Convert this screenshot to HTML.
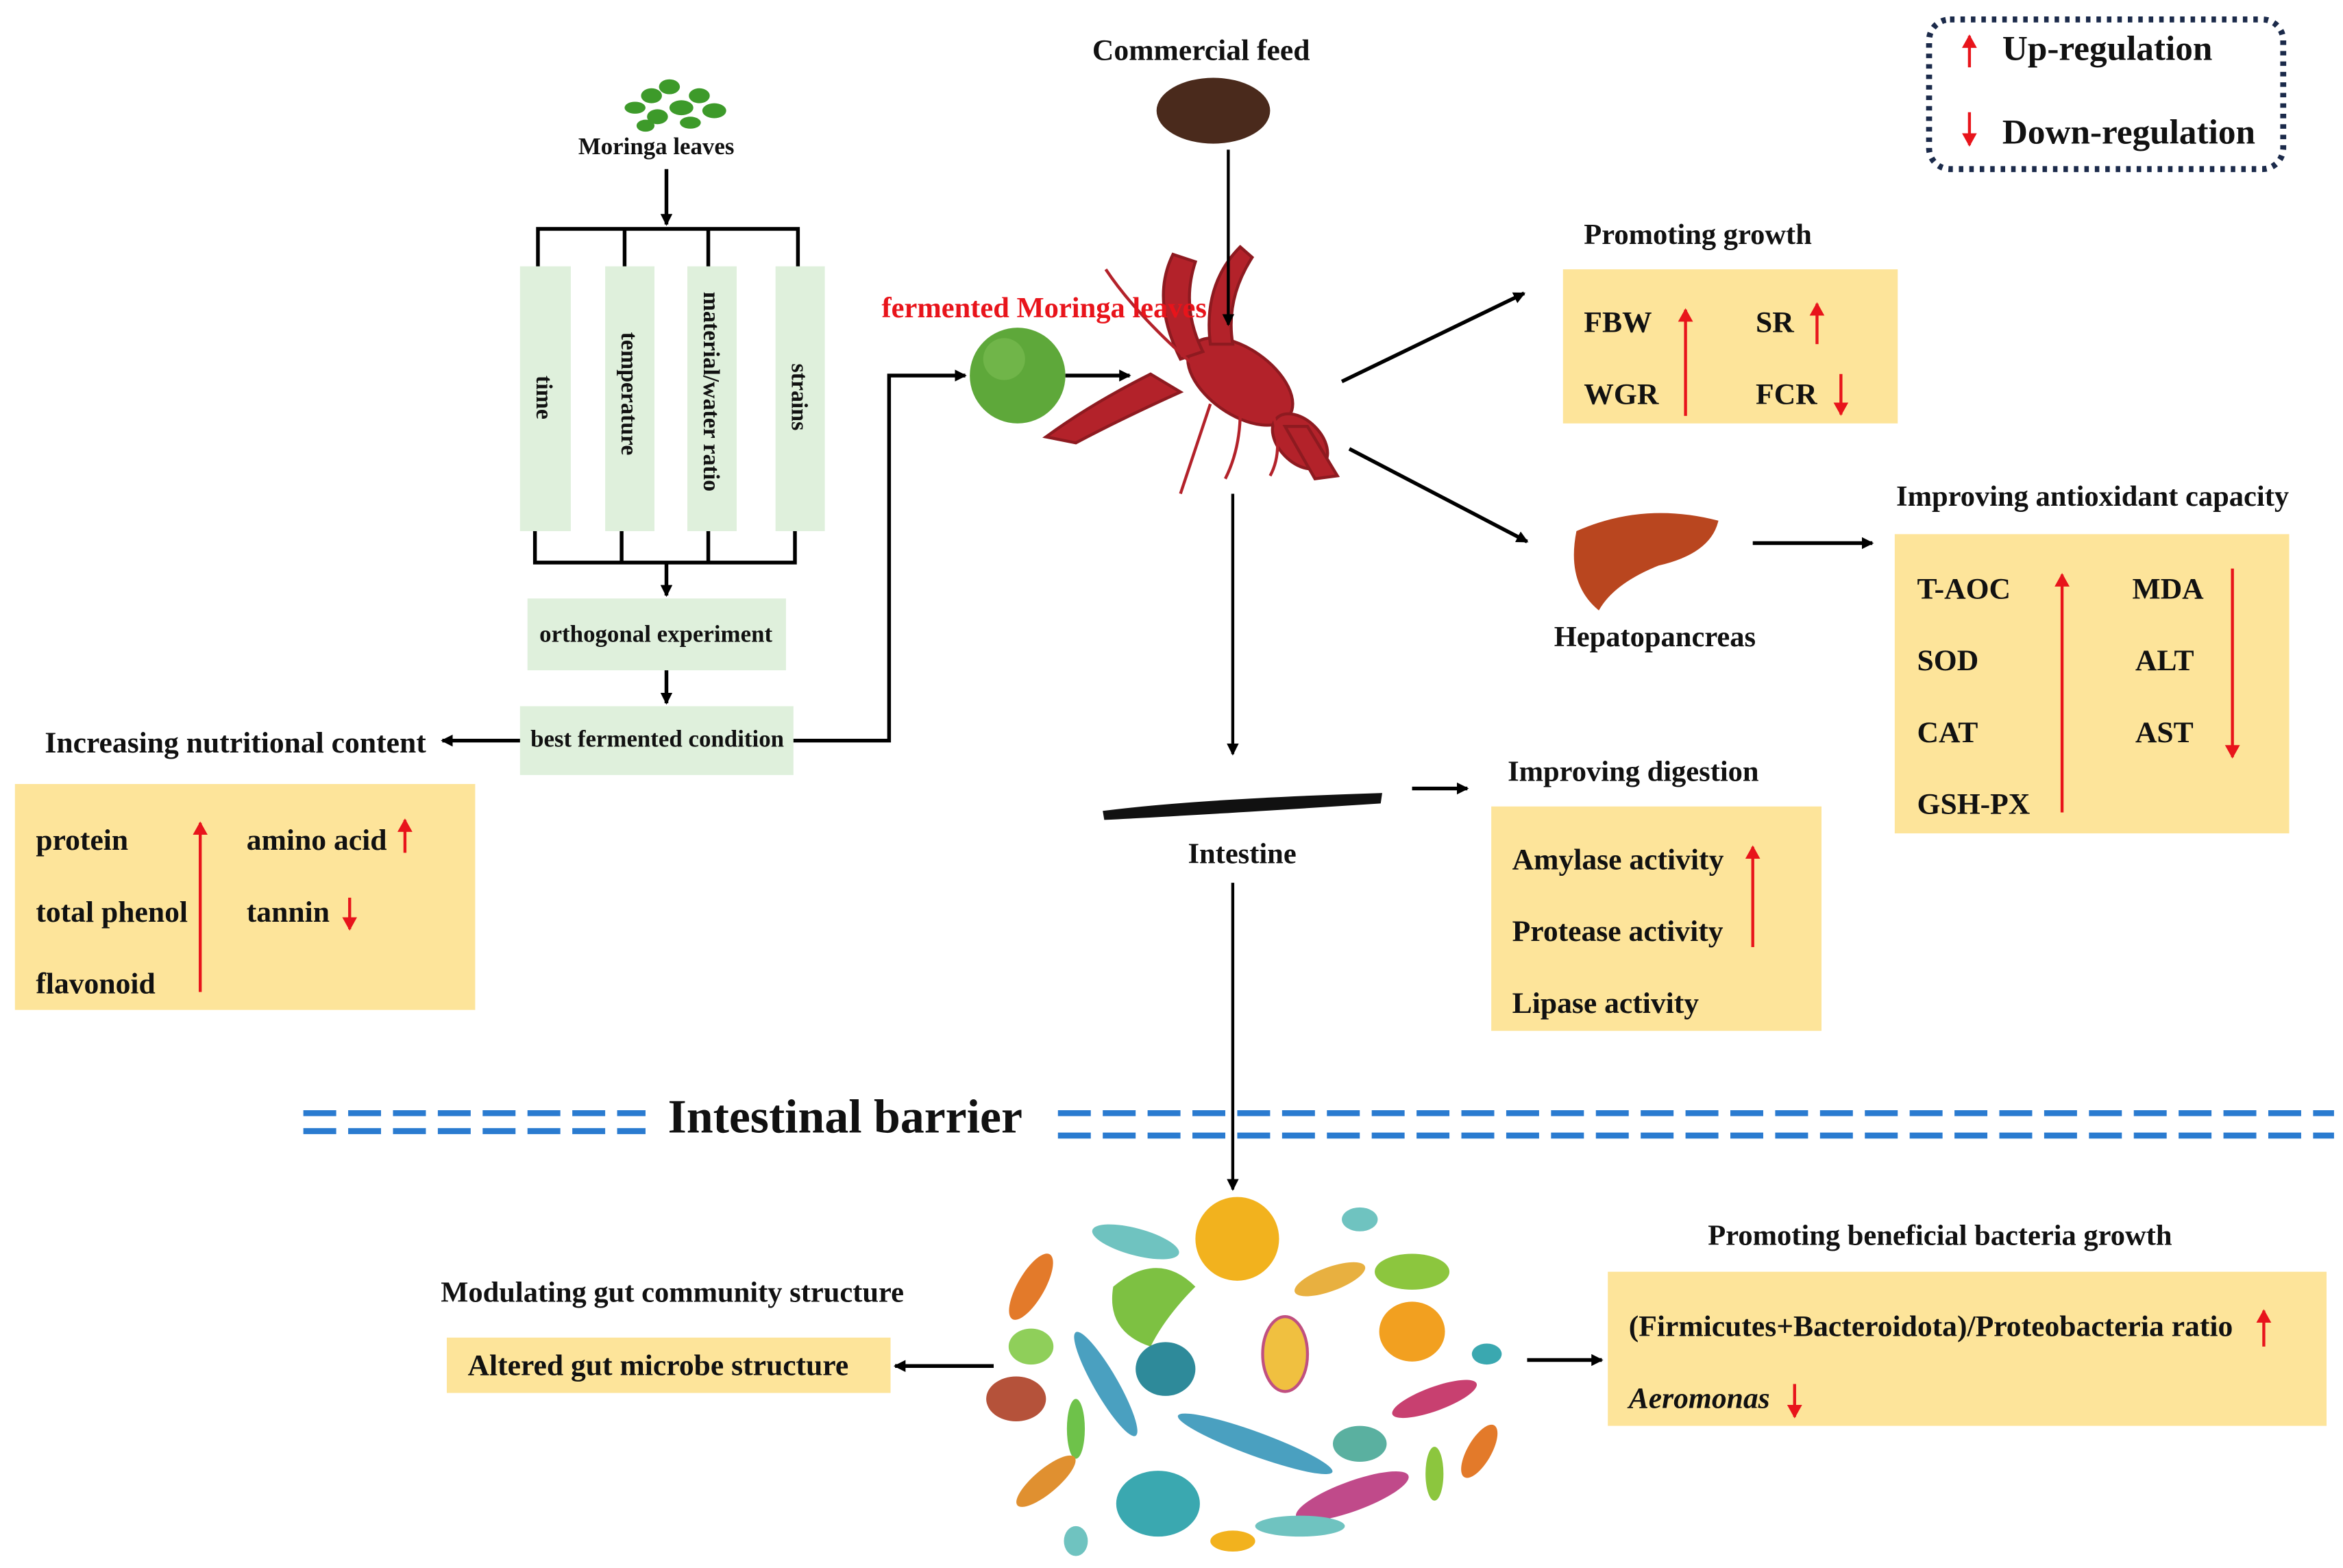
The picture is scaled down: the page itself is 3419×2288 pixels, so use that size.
<!DOCTYPE html>
<html><head><meta charset="utf-8"><style>
html,body{margin:0;padding:0;background:#fff;}
svg{display:block;}
text{font-family:"Liberation Serif",serif;font-weight:bold;fill:#111;}
</style></head><body>
<svg width="3419" height="2288" viewBox="0 0 1568 1048" preserveAspectRatio="none" xmlns="http://www.w3.org/2000/svg">
<defs>
<marker id="a" markerWidth="8" markerHeight="8" refX="7" refY="4" orient="auto" markerUnits="userSpaceOnUse"><path d="M0,0 L8,4 L0,8 z" fill="#000"/></marker>
<marker id="r" markerWidth="9" markerHeight="10" refX="8" refY="5" orient="auto" markerUnits="userSpaceOnUse"><path d="M0,0 L9,5 L0,10 z" fill="#e8141b"/></marker>
</defs>
<rect width="1568" height="1048" fill="#fff"/>

<!-- legend -->
<rect x="1291" y="13" width="237" height="100" rx="14" fill="none" stroke="#1b2a4a" stroke-width="4" stroke-dasharray="3,4"/>
<line x1="1318" y1="45" x2="1318" y2="24" stroke="#e8141b" stroke-width="2" marker-end="url(#r)"/>
<text x="1340" y="40" font-size="23.5">Up-regulation</text>
<line x1="1318" y1="75" x2="1318" y2="97" stroke="#e8141b" stroke-width="2" marker-end="url(#r)"/>
<text x="1340" y="96" font-size="23.5">Down-regulation</text>

<!-- moringa -->
<g fill="#3d9a2a">
<ellipse cx="425" cy="72" rx="7" ry="4"/><ellipse cx="436" cy="64" rx="7" ry="5"/><ellipse cx="448" cy="58" rx="7" ry="5"/>
<ellipse cx="440" cy="78" rx="7" ry="5"/><ellipse cx="456" cy="72" rx="8" ry="5"/><ellipse cx="468" cy="64" rx="7" ry="5"/>
<ellipse cx="478" cy="74" rx="8" ry="5"/><ellipse cx="462" cy="82" rx="7" ry="4"/><ellipse cx="432" cy="84" rx="6" ry="4"/>
</g>
<text x="387" y="103" font-size="16">Moringa leaves</text>
<line x1="446" y1="113" x2="446" y2="150" stroke="#000" stroke-width="2.5" marker-end="url(#a)"/>
<g stroke="#000" stroke-width="2.5" fill="none">
<path d="M360,180 V153 H534 V180 M418,153 V180 M474,153 V180"/>
<path d="M358,355 V376 H532 V355 M416,355 V376 M474,355 V376"/>
</g>
<g fill="#dff0dc">
<rect x="348" y="178" width="34" height="177"/><rect x="405" y="178" width="33" height="177"/>
<rect x="460" y="178" width="33" height="177"/><rect x="519" y="178" width="33" height="177"/>
</g>
<g font-size="15.5">
<text transform="translate(359,251) rotate(90)">time</text>
<text transform="translate(416,222) rotate(90)">temperature</text>
<text transform="translate(471,195) rotate(90)">material/water ratio</text>
<text transform="translate(530,243) rotate(90)">strains</text>
</g>
<line x1="446" y1="376" x2="446" y2="398" stroke="#000" stroke-width="2.5" marker-end="url(#a)"/>
<rect x="353" y="400" width="173" height="48" fill="#dff0dc"/>
<text x="361" y="429" font-size="16">orthogonal experiment</text>
<line x1="446" y1="448" x2="446" y2="470" stroke="#000" stroke-width="2.5" marker-end="url(#a)"/>
<rect x="348" y="472" width="183" height="46" fill="#dff0dc"/>
<text x="355" y="499" font-size="16">best fermented condition</text>
<line x1="348" y1="495" x2="296" y2="495" stroke="#000" stroke-width="2.5" marker-end="url(#a)"/>
<text x="30" y="503" font-size="20">Increasing nutritional content</text>
<rect x="10" y="524" width="308" height="151" fill="#fde49a"/>
<g font-size="20">
<text x="24" y="568">protein</text><text x="24" y="616">total phenol</text><text x="24" y="664">flavonoid</text>
<text x="165" y="568">amino acid</text><text x="165" y="616">tannin</text>
</g>
<line x1="134" y1="663" x2="134" y2="550" stroke="#e8141b" stroke-width="2" marker-end="url(#r)"/>
<line x1="271" y1="570" x2="271" y2="548" stroke="#e8141b" stroke-width="2" marker-end="url(#r)"/>
<line x1="234" y1="600" x2="234" y2="621" stroke="#e8141b" stroke-width="2" marker-end="url(#r)"/>
<path d="M531,495 H595 V251 H646" stroke="#000" stroke-width="2.5" fill="none" marker-end="url(#a)"/>

<!-- fermented -->
<circle cx="681" cy="251" r="32" fill="#5ea83a"/>
<circle cx="672" cy="240" r="14" fill="#78bb50" opacity=".7"/>
<line x1="713" y1="251" x2="756" y2="251" stroke="#000" stroke-width="2.5" marker-end="url(#a)"/>

<!-- crayfish -->
<g fill="#b3222a" stroke="#8e1a20" stroke-width="2">
<ellipse cx="830" cy="255" rx="40" ry="22" transform="rotate(35 830 255)"/>
<ellipse cx="870" cy="295" rx="22" ry="14" transform="rotate(45 870 295)"/>
<path d="M770,250 Q730,270 700,292 L720,296 Q750,280 790,262 Z"/>
<path d="M790,240 Q770,200 785,170 L800,175 Q790,205 805,235 Z"/>
<path d="M810,230 Q805,190 830,165 L838,172 Q820,200 825,230 Z"/>
<path d="M860,285 L880,320 L895,318 L875,285 Z"/>
</g>
<g stroke="#b3222a" stroke-width="2" fill="none">
<path d="M800,245 Q760,210 740,180"/><path d="M810,270 Q800,300 790,330"/><path d="M830,275 Q830,300 820,320"/><path d="M850,270 Q860,300 850,318"/>
</g>
<text x="590" y="212" font-size="19.5" style="fill:#e8141b">fermented Moringa leaves</text>
<text x="731" y="40" font-size="20">Commercial feed</text>
<ellipse cx="812" cy="74" rx="38" ry="22" fill="#4a2a1c"/>
<line x1="822" y1="100" x2="822" y2="217" stroke="#000" stroke-width="2" marker-end="url(#a)"/>
<line x1="898" y1="255" x2="1020" y2="196" stroke="#000" stroke-width="2.5" marker-end="url(#a)"/>
<line x1="903" y1="300" x2="1022" y2="362" stroke="#000" stroke-width="2.5" marker-end="url(#a)"/>

<!-- growth -->
<text x="1060" y="163" font-size="19.5">Promoting growth</text>
<rect x="1046" y="180" width="224" height="103" fill="#fde49a"/>
<g font-size="20"><text x="1060" y="222">FBW</text><text x="1060" y="270">WGR</text><text x="1175" y="222">SR</text><text x="1175" y="270">FCR</text></g>
<line x1="1128" y1="278" x2="1128" y2="207" stroke="#e8141b" stroke-width="2" marker-end="url(#r)"/>
<line x1="1216" y1="230" x2="1216" y2="203" stroke="#e8141b" stroke-width="2" marker-end="url(#r)"/>
<line x1="1232" y1="250" x2="1232" y2="277" stroke="#e8141b" stroke-width="2" marker-end="url(#r)"/>

<!-- liver -->
<path d="M1055,355 Q1100,335 1150,348 Q1145,370 1110,378 Q1080,390 1070,408 Q1048,390 1055,355 Z" fill="#b9461f"/>
<text x="1040" y="432" font-size="19.5">Hepatopancreas</text>
<line x1="1173" y1="363" x2="1253" y2="363" stroke="#000" stroke-width="2.5" marker-end="url(#a)"/>
<text x="1269" y="338" font-size="19.5">Improving antioxidant capacity</text>
<rect x="1268" y="357" width="264" height="200" fill="#fde49a"/>
<g font-size="20"><text x="1283" y="400">T-AOC</text><text x="1283" y="448">SOD</text><text x="1283" y="496">CAT</text><text x="1283" y="544">GSH-PX</text>
<text x="1427" y="400">MDA</text><text x="1429" y="448">ALT</text><text x="1429" y="496">AST</text></g>
<line x1="1380" y1="543" x2="1380" y2="384" stroke="#e8141b" stroke-width="2" marker-end="url(#r)"/>
<line x1="1494" y1="380" x2="1494" y2="506" stroke="#e8141b" stroke-width="2" marker-end="url(#r)"/>

<!-- intestine -->
<line x1="825" y1="330" x2="825" y2="504" stroke="#000" stroke-width="2" marker-end="url(#a)"/>
<path d="M738,542 Q800,534 925,530 L924,537 Q800,545 739,548 Z" fill="#111"/>
<text x="795" y="577" font-size="19.5">Intestine</text>
<line x1="945" y1="527" x2="982" y2="527" stroke="#000" stroke-width="2.5" marker-end="url(#a)"/>
<text x="1009" y="522" font-size="19.5">Improving digestion</text>
<rect x="998" y="539" width="221" height="150" fill="#fde49a"/>
<g font-size="20"><text x="1012" y="581">Amylase activity</text><text x="1012" y="629">Protease activity</text><text x="1012" y="677">Lipase activity</text></g>
<line x1="1173" y1="633" x2="1173" y2="566" stroke="#e8141b" stroke-width="2" marker-end="url(#r)"/>
<line x1="825" y1="590" x2="825" y2="795" stroke="#000" stroke-width="2" marker-end="url(#a)"/>

<!-- barrier -->
<g stroke="#2a7bd0" stroke-width="4" stroke-dasharray="22,8">
<line x1="203" y1="744" x2="432" y2="744"/><line x1="203" y1="756" x2="432" y2="756"/>
<line x1="708" y1="744" x2="1562" y2="744"/><line x1="708" y1="759" x2="1562" y2="759"/>
</g>
<text x="447" y="757" font-size="32">Intestinal barrier</text>

<!-- bacteria -->
<g>
<circle cx="828" cy="828" r="28" fill="#f2b21e"/>
<ellipse cx="760" cy="830" rx="30" ry="9" fill="#6fc3c0" transform="rotate(15 760 830)"/>
<ellipse cx="690" cy="860" rx="9" ry="25" fill="#e37a2a" transform="rotate(30 690 860)"/>
<path d="M745,860 Q775,835 800,860 Q780,880 770,900 Q740,890 745,860Z" fill="#7dc142"/>
<ellipse cx="860" cy="905" rx="15" ry="25" fill="#f0c040" stroke="#c05080" stroke-width="2"/>
<ellipse cx="780" cy="915" rx="20" ry="18" fill="#2e8a9a"/>
<ellipse cx="945" cy="890" rx="22" ry="20" fill="#f2a020"/>
<ellipse cx="945" cy="850" rx="25" ry="12" fill="#8cc63e"/>
<ellipse cx="890" cy="855" rx="25" ry="8" fill="#e8b040" transform="rotate(-20 890 855)"/>
<ellipse cx="680" cy="935" rx="20" ry="15" fill="#b5523a"/>
<ellipse cx="690" cy="900" rx="15" ry="12" fill="#8fcf5a"/>
<ellipse cx="740" cy="925" rx="8" ry="40" fill="#4aa0c0" transform="rotate(-30 740 925)"/>
<ellipse cx="840" cy="965" rx="55" ry="8" fill="#4aa0c0" transform="rotate(20 840 965)"/>
<ellipse cx="775" cy="1005" rx="28" ry="22" fill="#3aa8b0"/>
<ellipse cx="905" cy="1000" rx="40" ry="10" fill="#c04a8a" transform="rotate(-20 905 1000)"/>
<ellipse cx="960" cy="935" rx="30" ry="8" fill="#c84070" transform="rotate(-20 960 935)"/>
<ellipse cx="910" cy="965" rx="18" ry="12" fill="#5ab0a0"/>
<ellipse cx="720" cy="955" rx="6" ry="20" fill="#6ec24a"/>
<ellipse cx="700" cy="990" rx="8" ry="25" fill="#e09030" transform="rotate(50 700 990)"/>
<ellipse cx="990" cy="970" rx="8" ry="20" fill="#e37a2a" transform="rotate(30 990 970)"/>
<ellipse cx="960" cy="985" rx="6" ry="18" fill="#8cc63e"/>
<ellipse cx="870" cy="1020" rx="30" ry="7" fill="#6fc3c0"/>
<ellipse cx="825" cy="1030" rx="15" ry="7" fill="#f2b21e"/>
<ellipse cx="995" cy="905" rx="10" ry="7" fill="#3aa8b0"/>
<ellipse cx="910" cy="815" rx="12" ry="8" fill="#6fc3c0"/>
<ellipse cx="720" cy="1030" rx="8" ry="10" fill="#6fc3c0"/>
</g>
<text x="295" y="870" font-size="19.5">Modulating gut community structure</text>
<rect x="299" y="894" width="297" height="37" fill="#fde49a"/>
<text x="313" y="919" font-size="20">Altered gut microbe structure</text>
<line x1="665" y1="913" x2="599" y2="913" stroke="#000" stroke-width="2.5" marker-end="url(#a)"/>
<line x1="1022" y1="909" x2="1072" y2="909" stroke="#000" stroke-width="2.5" marker-end="url(#a)"/>
<text x="1143" y="832" font-size="19.5">Promoting beneficial bacteria growth</text>
<rect x="1076" y="850" width="481" height="103" fill="#fde49a"/>
<text x="1090" y="893" font-size="20">(Firmicutes+Bacteroidota)/Proteobacteria ratio</text>
<text x="1090" y="941" font-size="20" font-style="italic">Aeromonas</text>
<line x1="1515" y1="900" x2="1515" y2="876" stroke="#e8141b" stroke-width="2" marker-end="url(#r)"/>
<line x1="1201" y1="925" x2="1201" y2="947" stroke="#e8141b" stroke-width="2" marker-end="url(#r)"/>
</svg>
</body></html>
